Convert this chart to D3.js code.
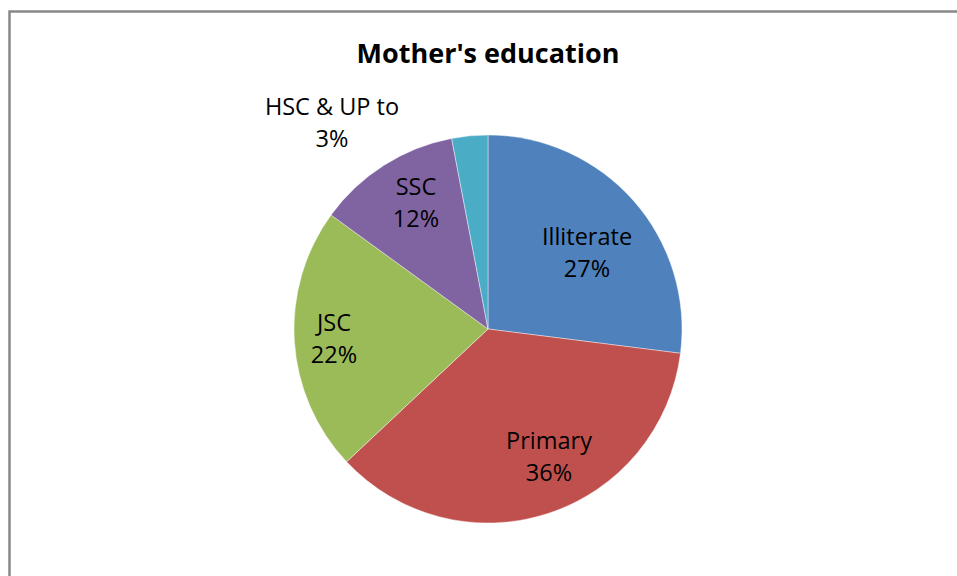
<!DOCTYPE html>
<html>
<head>
<meta charset="utf-8">
<script src="https://cdn.jsdelivr.net/npm/d3@7"></script>
<style>
  html, body { margin: 0; padding: 0; background: #fff; }
  svg { display: block; }
  text { font-family: "Open Sans", "Noto Sans", sans-serif; fill: #000; }
</style>
</head>
<body>
<svg id="chart" width="957" height="576"></svg>
<script>
const title = "Mother's education";
const categories = ["Illiterate", "Primary", "JSC", "SSC", "HSC & UP to"];
const values = [27, 36, 22, 12, 3];
const colors = ["#4F81BD", "#C0504D", "#9BBB59", "#8064A2", "#4BACC6"];
// label anchor offsets relative to pie centre (layout only)
const labelOffsets = [[99, -68], [61, 136], [-154, 18], [-72, -118], [-156, -198]];

const W = 957, H = 576;
const cx = 488, cy = 329, R = 194;
const svg = d3.select("#chart");

// frame
svg.append("path")
  .attr("d", `M9.5,${H} L9.5,11.5 L${W},11.5`)
  .attr("fill", "none").attr("stroke", "#888888").attr("stroke-width", 2.5);

svg.append("text")
  .attr("x", cx).attr("y", 62.5)
  .attr("text-anchor", "middle")
  .attr("font-weight", "bold").attr("font-size", 27)
  .text(title);

const pie = d3.pie().sort(null).value(d => d)(values);
const arc = d3.arc().innerRadius(0).outerRadius(R);
const g = svg.append("g").attr("transform", `translate(${cx},${cy})`);

g.selectAll("path.slice").data(pie).enter().append("path")
  .attr("class", "slice")
  .attr("d", arc)
  .attr("fill", (d, i) => colors[i])
  .attr("stroke", "#ffffff").attr("stroke-width", 0.6).attr("stroke-opacity", 0.7);

const fmt = d3.format(".0%");
const total = d3.sum(values);
const labels = g.selectAll("text.lbl").data(pie).enter().append("text")
  .attr("class", "lbl")
  .attr("text-anchor", "middle")
  .attr("font-size", 23.5)
  .attr("transform", (d, i) => `translate(${labelOffsets[i][0]},${labelOffsets[i][1]})`);
labels.append("tspan").attr("x", 0).attr("y", -16).text((d, i) => categories[i]);
labels.append("tspan").attr("x", 0).attr("y", 15.5).text(d => fmt(d.data / total));
</script>
</body>
</html>
